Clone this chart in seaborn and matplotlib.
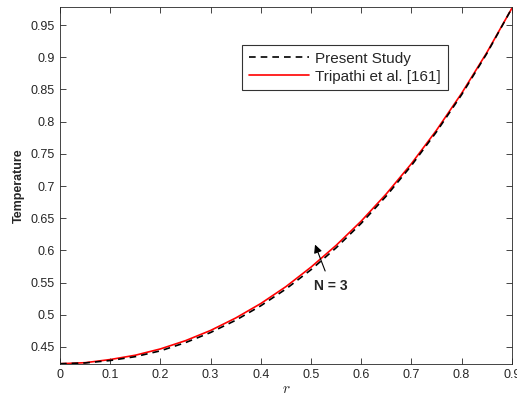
import numpy as np
import pandas as pd
import matplotlib
matplotlib.use("Agg")
import matplotlib.pyplot as plt
import seaborn as sns

# radial position
r = [0.0, 0.05, 0.1, 0.15, 0.2, 0.25, 0.3, 0.35, 0.4, 0.45,
     0.5, 0.55, 0.6, 0.65, 0.7, 0.75, 0.8, 0.85, 0.9]
# temperature
present = [0.424, 0.4252, 0.4290, 0.4350, 0.4440, 0.4568, 0.4725, 0.4915, 0.5140, 0.5400,
           0.5700, 0.6040, 0.6420, 0.6845, 0.7318, 0.7842, 0.8418, 0.9055, 0.9760]
tripathi = [0.424, 0.4256, 0.4305, 0.4372, 0.4470, 0.4598, 0.4757, 0.4950, 0.5175, 0.5437,
            0.5740, 0.6078, 0.6455, 0.6878, 0.7347, 0.7867, 0.8440, 0.9070, 0.9760]
yticks = [0.45, 0.5, 0.55, 0.6, 0.65, 0.7, 0.75, 0.8, 0.85, 0.9, 0.95]
xticks = [0, 0.1, 0.2, 0.3, 0.4, 0.5, 0.6, 0.7, 0.8, 0.9]

df = pd.DataFrame({"r": r * 2,
                   "T": present + tripathi,
                   "src": ["Present Study"] * len(r) + ["Tripathi et al. [161]"] * len(r)})

sns.set_style("ticks")
plt.rcParams['font.family'] = ['Liberation Sans', 'DejaVu Sans']
plt.rcParams['mathtext.fontset'] = 'cm'

fig = plt.figure(figsize=(5.17, 4.01), dpi=100)
ax = fig.add_axes([0.116, 0.0923, 0.874, 0.8902])

sns.lineplot(data=df[df.src == "Tripathi et al. [161]"], x="r", y="T", color="red",
             lw=1.2, ax=ax, label="Tripathi et al. [161]")
sns.lineplot(data=df[df.src == "Present Study"], x="r", y="T", color="black",
             lw=1.2, ls=(0, (4, 3)), ax=ax, label="Present Study")

ax.set_xlim(0, 0.9)
ax.set_ylim(0.4236, 0.978)
ax.set_xticks(xticks)
ax.set_xticklabels([f"{v:g}" for v in xticks])
ax.set_yticks(yticks)
ax.set_yticklabels([f"{v:g}" for v in yticks])
ax.tick_params(direction="in", top=True, right=True, labelsize=9,
               colors="#262626", length=4, width=0.6)
for s in ax.spines.values():
    s.set_color("#262626")
    s.set_linewidth(0.6)

ax.set_xlabel("$r$", fontsize=11, labelpad=1)
ax.set_ylabel("Temperature", fontsize=9, fontweight="bold", labelpad=4)

handles, labels = ax.get_legend_handles_labels()
leg = ax.legend(handles[::-1], labels[::-1], loc="upper left",
                bbox_to_anchor=(0.403, 0.894), fontsize=11, frameon=True,
                fancybox=False, edgecolor="black", handlelength=3.9,
                borderpad=0.45, labelspacing=0.25, handletextpad=0.45,
                borderaxespad=0)
leg.get_frame().set_linewidth(0.8)

ax.annotate("N = 3", xy=(0.508, 0.609), xytext=(0.540, 0.544),
            ha="center", va="center", fontsize=10, fontweight="bold",
            arrowprops=dict(arrowstyle="-|>", color="black", lw=0.8,
                            mutation_scale=12, shrinkA=4, shrinkB=0))

fig.savefig("out.png", dpi=100)
plt.close(fig)
